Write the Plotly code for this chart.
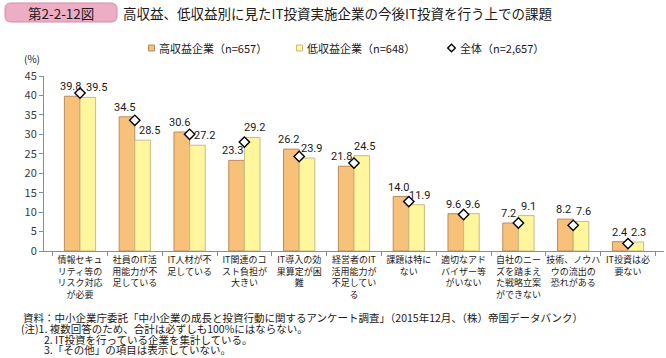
import plotly.graph_objects as go

categories = [
    "情報セキュ<br>リティ等の<br>リスク対応<br>が必要",
    "社員のIT活<br>用能力が不<br>足している",
    "IT人材が不<br>足している",
    "IT関連のコ<br>スト負担が<br>大きい",
    "IT導入の効<br>果算定が困<br>難",
    "経営者のIT<br>活用能力が<br>不足してい<br>る",
    "課題は特に<br>ない",
    "適切なアド<br>バイザー等<br>がいない",
    "自社のニー<br>ズを踏まえ<br>た戦略立案<br>ができない",
    "技術、ノウハ<br>ウの流出の<br>恐れがある",
    "IT投資は必<br>要ない",
]
high_profit = [39.8, 34.5, 30.6, 23.3, 26.2, 21.8, 14.0, 9.6, 7.2, 8.2, 2.4]
low_profit = [39.5, 28.5, 27.2, 29.2, 23.9, 24.5, 11.9, 9.6, 9.1, 7.6, 2.3]
overall = [40.6, 33.6, 30.0, 28.0, 24.3, 22.6, 12.7, 9.4, 7.2, 6.6, 1.9]
y_ticks = [0, 5, 10, 15, 20, 25, 30, 35, 40, 45]

series_names = ["高収益企業（n=657）", "低収益企業（n=648）", "全体（n=2,657）"]
title_text = "高収益、低収益別に見たIT投資実施企業の今後IT投資を行う上での課題"
figure_label = "第2-2-12図"
notes = [
    "資料：中小企業庁委託「中小企業の成長と投資行動に関するアンケート調査」（2015年12月、（株）帝国データバンク）",
    "(注)1. 複数回答のため、合計は必ずしも100%にはならない。",
    "2. IT投資を行っている企業を集計している。",
    "3.「その他」の項目は表示していない。",
]

W, H = 666, 358
L, R, T, B = 44, 2, 76, 107
PW, PH = W - L - R, H - T - B
FONT = "Noto Sans CJK JP"
NUMFONT = "Roboto, sans-serif"
TXT = "#231815"
ORANGE, ORANGE_EDGE = "#F8C17A", "#B98D5C"
YELLOW, YELLOW_EDGE = "#FFF69E", "#C9BC7E"

# label nudges (pixels) that keep value labels clear of the diamonds
nudge_high = [-2, -2, -2, -4, -3, -5, -2, -2, -2, -2, -1]
nudge_low = [8, 7, 7, 2, 4, 2, 3, 1, 2, 2, 2]


def px(x):
    return (x - L) / PW


def py(y):
    return (H - B - y) / PH


fig = go.Figure()
fig.add_trace(go.Bar(
    x=categories, y=high_profit, name=series_names[0],
    marker=dict(color=ORANGE, line=dict(color=ORANGE_EDGE, width=1)),
))
fig.add_trace(go.Bar(
    x=categories, y=low_profit, name=series_names[1],
    marker=dict(color=YELLOW, line=dict(color=YELLOW_EDGE, width=1)),
))
fig.add_trace(go.Scatter(
    x=categories, y=overall, name=series_names[2], mode="markers",
    marker=dict(symbol="diamond", size=8, color="white",
                line=dict(color="black", width=1.4)),
    cliponaxis=False,
))

for c, hv, lv, nh, nl in zip(categories, high_profit, low_profit,
                             nudge_high, nudge_low):
    fig.add_annotation(x=c, y=hv, text=f"{hv:.1f}", showarrow=False,
                       xanchor="center", yanchor="bottom",
                       xshift=-8 + nh, yshift=1,
                       font=dict(size=11, color=TXT, family=NUMFONT))
    fig.add_annotation(x=c, y=lv, text=f"{lv:.1f}", showarrow=False,
                       xanchor="center", yanchor="bottom",
                       xshift=8 + nl, yshift=1,
                       font=dict(size=11, color=TXT, family=NUMFONT))

fig.update_layout(
    width=W, height=H,
    margin=dict(l=L, r=R, t=T, b=B, autoexpand=False),
    paper_bgcolor="white", plot_bgcolor="white",
    barmode="group", bargap=0.43, bargroupgap=0,
    font=dict(family=FONT, color=TXT, size=11),
    showlegend=False,
    xaxis=dict(type="category", showline=True, linecolor="#8c8c8c",
               linewidth=1, ticks="outside", tickson="boundaries",
               ticklen=4, tickcolor="#8c8c8c", showgrid=False,
               tickfont=dict(size=9, color=TXT, family=FONT),
               tickangle=0),
    yaxis=dict(range=[0, 45], tickvals=y_ticks, showline=True,
               linecolor="#8c8c8c", linewidth=1, ticks="outside",
               ticklen=4, tickcolor="#8c8c8c", showgrid=False,
               zeroline=False,
               tickfont=dict(size=11, color="#3a3a3a", family=FONT)),
)

# rounded banner
x0, x1, y0, y1, r = 5, 117, 3, 22, 6
rx, ry = r / PW, r / PH
X0, X1, Y0, Y1 = px(x0), px(x1), py(y1), py(y0)
path = (f"M {X0+rx},{Y0} L {X1-rx},{Y0} Q {X1},{Y0} {X1},{Y0+ry} "
        f"L {X1},{Y1-ry} Q {X1},{Y1} {X1-rx},{Y1} L {X0+rx},{Y1} "
        f"Q {X0},{Y1} {X0},{Y1-ry} L {X0},{Y0+ry} Q {X0},{Y0} {X0+rx},{Y0} Z")
fig.add_shape(type="path", xref="paper", yref="paper", path=path,
              fillcolor="#EDAEC5", line=dict(color="#D88AA8", width=1))
fig.add_annotation(text=figure_label, xref="paper", yref="paper",
                   x=px(61), y=py(13), showarrow=False,
                   xanchor="center", yanchor="middle",
                   font=dict(size=13.5, color=TXT, family=FONT))
fig.add_annotation(text=title_text, xref="paper", yref="paper",
                   x=px(121), y=py(13), showarrow=False,
                   xanchor="left", yanchor="middle",
                   font=dict(size=13.5, color=TXT, family=FONT))
fig.add_annotation(text="(%)", xref="paper", yref="paper",
                   x=px(32), y=py(58), showarrow=False,
                   xanchor="center", yanchor="middle",
                   font=dict(size=10, color=TXT, family=FONT))

# legend
leg_y = 48
fig.add_shape(type="rect", xref="paper", yref="paper",
              x0=px(148.5), x1=px(154.5), y0=py(leg_y + 3), y1=py(leg_y - 3),
              fillcolor=ORANGE, line=dict(color=ORANGE_EDGE, width=1))
fig.add_shape(type="rect", xref="paper", yref="paper",
              x0=px(296.5), x1=px(302.5), y0=py(leg_y + 3), y1=py(leg_y - 3),
              fillcolor=YELLOW, line=dict(color=YELLOW_EDGE, width=1))
dx, dy = 3.8 / PW, 3.8 / PH
cx, cy = px(451.5), py(leg_y)
fig.add_shape(type="path", xref="paper", yref="paper",
              path=f"M {cx-dx},{cy} L {cx},{cy+dy} L {cx+dx},{cy} L {cx},{cy-dy} Z",
              fillcolor="white", line=dict(color="black", width=1.4))
for t, lx in zip(series_names, [157, 305, 458]):
    fig.add_annotation(text=t, xref="paper", yref="paper",
                       x=px(lx), y=py(leg_y), showarrow=False,
                       xanchor="left", yanchor="middle",
                       font=dict(size=11, color=TXT, family=FONT))

note_pos = [(21, 317), (19, 328), (42, 339), (42, 349)]
for t, (nx, ny) in zip(notes, note_pos):
    fig.add_annotation(text=t, xref="paper", yref="paper",
                       x=px(nx), y=py(ny), showarrow=False,
                       xanchor="left", yanchor="middle",
                       font=dict(size=10.5, color=TXT, family=FONT))

fig.write_html("out.html", config={"displayModeBar": False},
               post_script="document.body.style.margin='0';")
